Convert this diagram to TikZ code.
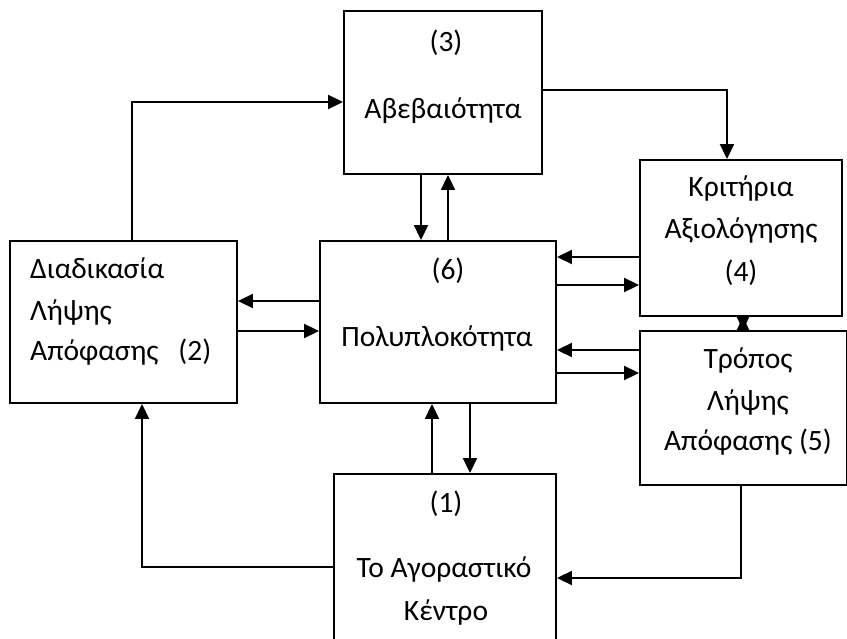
\documentclass[tikz,border=0pt]{standalone}
\usepackage{fontspec}
\setmainfont{Carlito}
\usetikzlibrary{arrows.meta}
\begin{document}
\begin{tikzpicture}[x=1pt,y=-1pt,
  box/.style={draw, line width=1.9pt, inner sep=0pt},
  txt/.style={inner sep=0pt, font=\fontsize{29.5}{34}\selectfont, text height=21pt, text depth=6pt},
  arr/.style={line width=1.9pt, -{Triangle[length=15pt,width=14pt]}}]
\useasboundingbox (0,0) rectangle (847,639);
\clip (0,0) rectangle (847,639);

% boxes
\node[box, minimum width=198pt, minimum height=163pt] (b3) at (443,92.5) {};
\node[box, minimum width=227pt, minimum height=162pt] (b2) at (123.5,322) {};
\node[box, minimum width=236pt, minimum height=162pt] (b6) at (438,322) {};
\node[box, minimum width=202pt, minimum height=156pt] (b4) at (741,238) {};
\node[box, minimum width=207pt, minimum height=154pt] (b5) at (743.5,408) {};
\node[box, minimum width=222pt, minimum height=186pt] (b1) at (445,567) {};

% labels
\node[txt] (t3a) at (446,44) {(3)};
\node[txt] (t3b) at (443,111) {Αβεβαιότητα};
\node[txt, anchor=west] (t2a) at (30,271) {Διαδικασία};
\node[txt, anchor=west] (t2b) at (30,313) {Λήψης};
\node[txt, anchor=west] (t2c) at (30,353) {Απόφασης\ \ \ (2)};
\node[txt] (t6a) at (448,272) {(6)};
\node[txt] (t6b) at (437,339) {Πολυπλοκότητα};
\node[txt] (t4a) at (741,189) {Κριτήρια};
\node[txt] (t4b) at (741,231) {Αξιολόγησης};
\node[txt] (t4c) at (741,274) {(4)};
\node[txt] (t5a) at (748,361) {Τρόπος};
\node[txt] (t5b) at (748,403) {Λήψης};
\node[txt] (t5c) at (748,443) {Απόφασης (5)};
\node[txt] (t1a) at (446,505) {(1)};
\node[txt] (t1b) at (444,570) {Το Αγοραστικό};
\node[txt] (t1c) at (446,613) {Κέντρο};

% attachment points on the box borders
\coordinate (c34d) at ([xshift=-22pt]b3.south);
\coordinate (c34u) at ([xshift=5pt]b3.south);
\coordinate (c26l) at ([yshift=21pt]b6.west);
\coordinate (c26r) at ([yshift=-9pt]b2.east);
\coordinate (c46l) at ([yshift=-19pt]b4.west);
\coordinate (c46r) at ([yshift=-47pt]b4.west);
\coordinate (c56l) at ([yshift=58pt]b5.west);
\coordinate (c56r) at ([yshift=35pt]b5.west);
\coordinate (c45) at ([xshift=2pt]b4.south);
\coordinate (c16u) at ([xshift=-13pt]b1.north);
\coordinate (c16d) at ([xshift=25pt]b1.north);

% connectors
\draw[arr] ([xshift=8.5pt]b2.north) |- ([yshift=-9.5pt]b3.west);
\draw[arr] ([yshift=2.5pt]b3.east) -| ([xshift=-14pt]b4.north);
\draw[arr] (c34d) -- (c34d |- b6.north);
\draw[arr] (c34u |- b6.north) -- (c34u);
\draw[arr] (c26l) -- (c26l -| b2.east);
\draw[arr] (c26r) -- (c26r -| b6.west);
\draw[arr] (c46l) -- (c46l -| b6.east);
\draw[arr] (c46r -| b6.east) -- (c46r);
\draw[arr] (c56l) -- (c56l -| b6.east);
\draw[arr] (c56r -| b6.east) -- (c56r);
\draw[arr] (c45) -- (c45 |- b5.north);
\draw[arr] (c45 |- b5.north) -- (c45);
\draw[arr] (c16u) -- (c16u |- b6.south);
\draw[arr] (c16d |- b6.south) -- (c16d);
\draw[arr] (b1.west) -| ([xshift=18.5pt]b2.south);
\draw[arr] ([xshift=-2.5pt]b5.south) |- ([yshift=-11pt]b1.east);
\end{tikzpicture}
\end{document}
